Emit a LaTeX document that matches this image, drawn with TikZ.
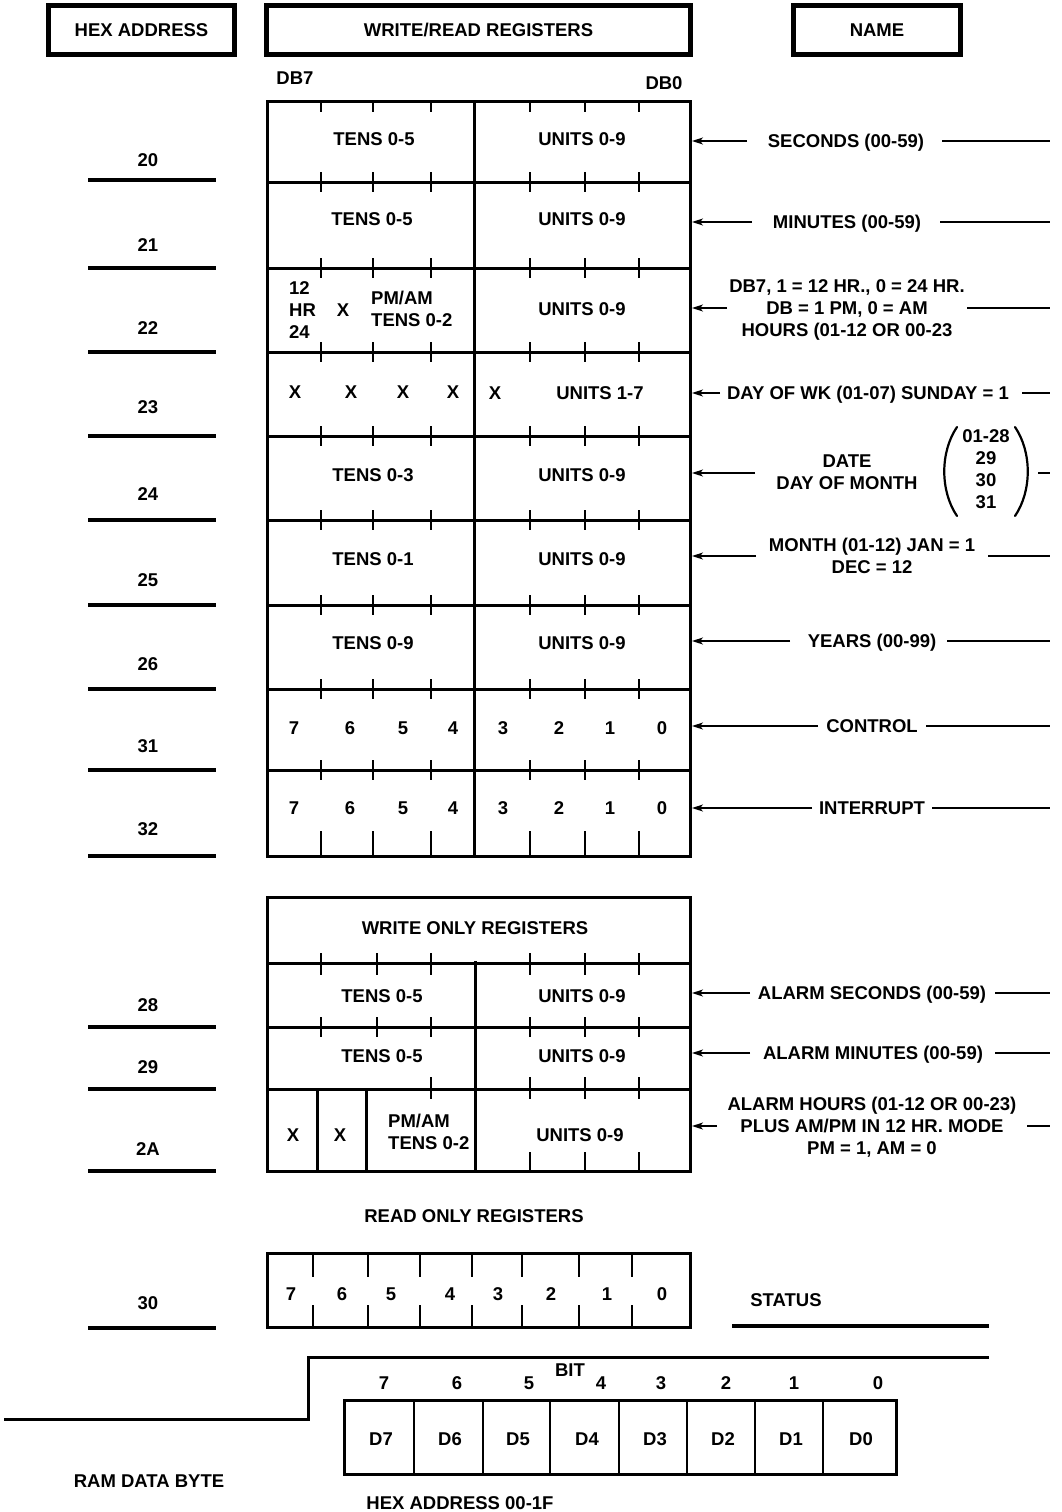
\documentclass[tikz,border=0pt]{standalone}
\usepackage{fontspec}
\setmainfont{Liberation Sans}
\usetikzlibrary{arrows.meta}
\newcommand{\lblfont}{\fontsize{18.5}{22}\selectfont\bfseries}
\begin{document}
\begin{tikzpicture}[x=1pt,y=-1pt,
  lbl/.style={inner sep=0pt,font=\lblfont,text height=13.3pt,text depth=0pt},
  ml/.style={inner sep=0pt,font=\lblfont,align=center,anchor=north},
  mll/.style={inner sep=0pt,font=\lblfont,align=left,anchor=north west},
  hdrbox/.style={draw,line width=5pt,inner sep=0pt,font=\lblfont,text height=13.3pt,text depth=0pt,minimum height=49pt},
  regline/.style={line width=3pt},
  tickline/.style={line width=1.6pt},
  thinline/.style={line width=1.2pt},
  addrline/.style={line width=3.2pt},
  namearrow/.style={line width=1.5pt,-{Stealth[length=11pt,width=7pt,inset=3pt]}},
  leadline/.style={line width=1.5pt}
]
\useasboundingbox (0,0) rectangle (1061,1512);

% ---------- headers ----------
\node[hdrbox,minimum width=186pt] (hHex) at (141.5,30) {HEX ADDRESS};
\node[hdrbox,minimum width=424pt] (hWR) at (478.5,30) {WRITE/READ REGISTERS};
\node[hdrbox,minimum width=167.5pt] (hName) at (877,30) {NAME};
\node[lbl] (db7) at (295,78) {DB7};
\node[lbl] (db0) at (664,83) {DB0};

% ---------- write/read register block ----------
\draw[regline] (267,101) rectangle (690,856);
\foreach \y in {182,268,352,436,520,605,689,770} \draw[regline] (267,\y) -- (690,\y);
\draw[regline] (474,101) -- (474,856);
\foreach \x in {321,373,431,530,585,639} {
  \draw[tickline] (\x,101) -- (\x,112);
  \foreach \y in {182,268,352,436,520,605,689,770} \draw[tickline] (\x,\y-10) -- (\x,\y+10);
  \draw[tickline] (\x,831) -- (\x,856);
}
% row 20
\node[lbl] (c20t) at (374,139) {TENS 0-5};
\node[lbl] (c20u) at (582,139) {UNITS 0-9};
% row 21
\node[lbl] (c21t) at (372,219) {TENS 0-5};
\node[lbl] (c21u) at (582,219) {UNITS 0-9};
% row 22
\node[mll] (c22a) at (289,281.4) {12\\HR\\24};
\node[lbl] (c22x) at (343,310) {X};
\node[mll] (c22t) at (371,290.4) {PM/AM\\TENS 0-2};
\node[lbl] (c22u) at (582,309) {UNITS 0-9};
% row 23
\node[lbl] (c23a) at (295,392) {X};
\node[lbl] (c23b) at (351,392) {X};
\node[lbl] (c23c) at (403,392) {X};
\node[lbl] (c23d) at (453,392) {X};
\node[lbl] (c23e) at (495,393) {X};
\node[lbl] (c23u) at (600,393) {UNITS 1-7};
% row 24
\node[lbl] (c24t) at (373,475) {TENS 0-3};
\node[lbl] (c24u) at (582,475) {UNITS 0-9};
% row 25
\node[lbl] (c25t) at (373,559) {TENS 0-1};
\node[lbl] (c25u) at (582,559) {UNITS 0-9};
% row 26
\node[lbl] (c26t) at (373,643) {TENS 0-9};
\node[lbl] (c26u) at (582,643) {UNITS 0-9};
% rows 31, 32
\foreach \d/\x in {7/294,6/350,5/403,4/453,3/503,2/559,1/610,0/662} {
  \node[lbl] (c31-\d) at (\x,728) {\d};
  \node[lbl] (c32-\d) at (\x,808) {\d};
}

% ---------- addresses ----------
\foreach \a/\ty/\ly in {20/160/180,21/245/268,22/328/352,23/407/436,24/494/520,25/580/605,26/664/689,31/746/770,32/829/856,28/1005/1027,29/1067/1089,2A/1149/1171,30/1303/1328} {
  \node[lbl] (ad\a) at (148,\ty) {\a};
  \coordinate (adl\a) at (88,\ly);
  \coordinate (adr\a) at (216,\ly);
  \draw[addrline] (adl\a) -- (adr\a);
}

% ---------- names (write/read) ----------
\node[lbl] (nSec) at (846,141) {SECONDS (00-59)};
\coordinate (e20) at (692,141); \coordinate (a20) at (747,141);
\coordinate (b20) at (942,141); \coordinate (f20) at (1050,141);
\draw[namearrow] (a20) -- (e20); \draw[leadline] (b20) -- (f20);

\node[lbl] (nMin) at (847,222) {MINUTES (00-59)};
\coordinate (e21) at (692,222); \coordinate (a21) at (752,222);
\coordinate (b21) at (940,222); \coordinate (f21) at (1050,222);
\draw[namearrow] (a21) -- (e21); \draw[leadline] (b21) -- (f21);

\node[ml] (nHr) at (847,279.4) {DB7, 1 = 12 HR., 0 = 24 HR.\\DB = 1 PM, 0 = AM\\HOURS (01-12 OR 00-23};
\coordinate (e22) at (692,308); \coordinate (a22) at (727,308);
\coordinate (b22) at (967,308); \coordinate (f22) at (1050,308);
\draw[namearrow] (a22) -- (e22); \draw[leadline] (b22) -- (f22);

\node[lbl] (nDow) at (868,393) {DAY OF WK (01-07) SUNDAY = 1};
\coordinate (e23) at (692,393); \coordinate (a23) at (720,393);
\coordinate (b23) at (1022,393); \coordinate (f23) at (1050,393);
\draw[namearrow] (a23) -- (e23); \draw[leadline] (b23) -- (f23);

\node[ml] (nDate) at (847,454.4) {DATE\\DAY OF MONTH};
\node[ml] (nDays) at (986,429.4) {01-28\\29\\30\\31};
\draw[line width=2.2pt,line cap=round] (957,427) .. controls (940,452) and (940,491) .. (957,516);
\draw[line width=2.2pt,line cap=round] (1015,427) .. controls (1032,452) and (1032,491) .. (1015,516);
\coordinate (e24) at (692,473); \coordinate (a24) at (755,473);
\coordinate (b24) at (1038,473); \coordinate (f24) at (1050,473);
\draw[namearrow] (a24) -- (e24); \draw[leadline] (b24) -- (f24);

\node[ml] (nMon) at (872,537.4) {MONTH (01-12) JAN = 1\\DEC = 12};
\coordinate (e25) at (692,556); \coordinate (a25) at (756,556);
\coordinate (b25) at (988,556); \coordinate (f25) at (1050,556);
\draw[namearrow] (a25) -- (e25); \draw[leadline] (b25) -- (f25);

\node[lbl] (nYr) at (872,641) {YEARS (00-99)};
\coordinate (e26) at (692,641); \coordinate (a26) at (790,641);
\coordinate (b26) at (947,641); \coordinate (f26) at (1050,641);
\draw[namearrow] (a26) -- (e26); \draw[leadline] (b26) -- (f26);

\node[lbl] (nCtl) at (872,726) {CONTROL};
\coordinate (e31) at (692,726); \coordinate (a31) at (818,726);
\coordinate (b31) at (926,726); \coordinate (f31) at (1050,726);
\draw[namearrow] (a31) -- (e31); \draw[leadline] (b31) -- (f31);

\node[lbl] (nInt) at (872,808) {INTERRUPT};
\coordinate (e32) at (692,808); \coordinate (a32) at (812,808);
\coordinate (b32) at (932,808); \coordinate (f32) at (1050,808);
\draw[namearrow] (a32) -- (e32); \draw[leadline] (b32) -- (f32);

% ---------- write only block ----------
\draw[regline] (267,897) rectangle (690,1171);
\foreach \y in {963,1027,1089} \draw[regline] (267,\y) -- (690,\y);
\draw[regline] (475,961) -- (475,1171);
\draw[regline] (317,1089) -- (317,1171);
\draw[regline] (366,1089) -- (366,1171);
\foreach \x in {321,377,431,530,585,639} {
  \draw[tickline] (\x,953) -- (\x,975);
  \draw[tickline] (\x,1017) -- (\x,1037);
}
\foreach \x in {431,530,585,639} \draw[tickline] (\x,1077) -- (\x,1099);
\foreach \x in {530,585,639} \draw[tickline] (\x,1152) -- (\x,1171);
\node[lbl] (wHdr) at (475,928) {WRITE ONLY REGISTERS};
\node[lbl] (c28t) at (382,996) {TENS 0-5};
\node[lbl] (c28u) at (582,996) {UNITS 0-9};
\node[lbl] (c29t) at (382,1056) {TENS 0-5};
\node[lbl] (c29u) at (582,1056) {UNITS 0-9};
\node[lbl] (c2Aa) at (293,1135) {X};
\node[lbl] (c2Ab) at (340,1135) {X};
\node[mll] (c2At) at (388,1113.4) {PM/AM\\TENS 0-2};
\node[lbl] (c2Au) at (580,1135) {UNITS 0-9};

\node[lbl] (nAS) at (872,993) {ALARM SECONDS (00-59)};
\coordinate (e28) at (692,993); \coordinate (a28) at (750,993);
\coordinate (b28) at (995,993); \coordinate (f28) at (1050,993);
\draw[namearrow] (a28) -- (e28); \draw[leadline] (b28) -- (f28);

\node[lbl] (nAM) at (873,1053) {ALARM MINUTES (00-59)};
\coordinate (e29) at (692,1053); \coordinate (a29) at (750,1053);
\coordinate (b29) at (995,1053); \coordinate (f29) at (1050,1053);
\draw[namearrow] (a29) -- (e29); \draw[leadline] (b29) -- (f29);

\node[ml] (nAH) at (872,1096.4) {ALARM HOURS (01-12 OR 00-23)\\PLUS AM/PM IN 12 HR. MODE\\PM = 1, AM = 0};
\coordinate (e2A) at (692,1126); \coordinate (a2A) at (717,1126);
\coordinate (b2A) at (1027,1126); \coordinate (f2A) at (1050,1126);
\draw[namearrow] (a2A) -- (e2A); \draw[leadline] (b2A) -- (f2A);

% ---------- read only ----------
\node[lbl] (rHdr) at (474,1216) {READ ONLY REGISTERS};
\draw[regline] (267,1253) rectangle (690,1327);
\foreach \x in {313,368,420,472,522,579,632} {
  \draw[tickline] (\x,1253) -- (\x,1277);
  \draw[tickline] (\x,1305) -- (\x,1327);
}
\foreach \d/\x in {7/291,6/342,5/391,4/450,3/498,2/551,1/607,0/662}
  \node[lbl] (s-\d) at (\x,1294) {\d};
\node[lbl] (nStat) at (786,1300) {STATUS};
\coordinate (stl) at (732,1326); \coordinate (str) at (989,1326);
\draw[addrline] (stl) -- (str);

% ---------- RAM data byte ----------
\coordinate (st0) at (4,1419); \coordinate (st1) at (308,1419);
\coordinate (st2) at (308,1357); \coordinate (st3) at (989,1357);
\draw[line width=3pt] (st0) -- (st1) -- (st2) -- (st3);
\node[lbl] (bit) at (570,1370) {BIT};
\foreach \d/\x in {7/384,6/457,5/529,4/601,3/661,2/726,1/794,0/878}
  \node[lbl] (bd-\d) at (\x,1383) {\d};
\draw[regline] (344,1400) rectangle (896,1474);
\foreach \x in {414,483,550,619,687,755,823} \draw[thinline] (\x,1400) -- (\x,1474);
\foreach \d/\x in {7/381,6/450,5/518,4/587,3/655,2/723,1/791,0/861}
  \node[lbl] (D\d) at (\x,1439) {D\d};
\node[lbl] (ram) at (149,1481) {RAM DATA BYTE};
\node[lbl] (hexa) at (460,1503) {HEX ADDRESS 00-1F};
\end{tikzpicture}
\end{document}
